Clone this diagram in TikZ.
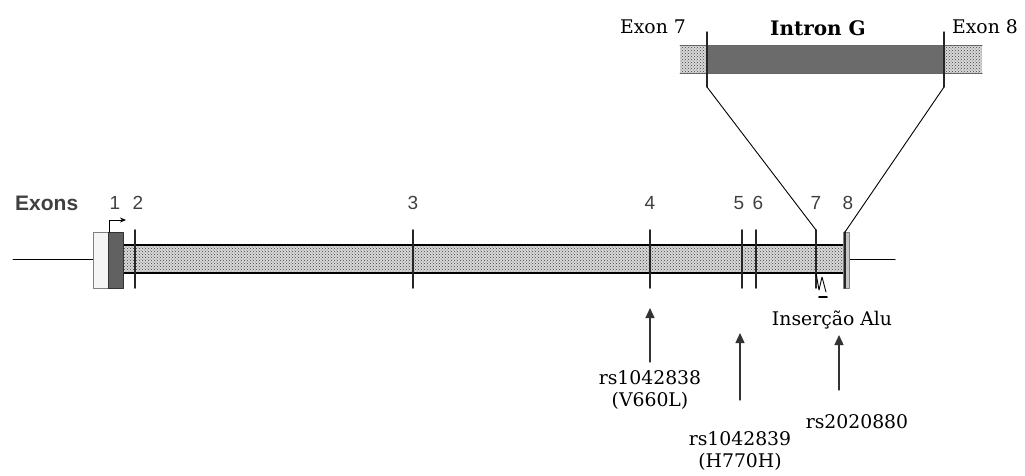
\documentclass[tikz,border=0pt]{standalone}
\usepackage{fontspec}
\setsansfont{Liberation Sans}
\newfontfamily\monofont{DejaVu Serif}
\usetikzlibrary{patterns,arrows.meta}

\tikzset{
  exnum/.style={font=\sffamily\fontsize{19}{19}\selectfont, inner sep=0, text=black!75},
  monolabel/.style={font=\monofont\fontsize{18.8}{22}\selectfont, inner sep=0, align=center},
  stipple/.style={fill=gray!30, postaction={pattern=crosshatch dots, pattern color=black!75}},
  exontick/.style={line width=1.6pt, black!85},
  snparrow/.style={-{Triangle[length=10pt,width=9pt]}, line width=1.3pt, black!80},
}

\begin{document}
\begin{tikzpicture}[line cap=round,line join=round,x=1pt,y=-1pt]
      \useasboundingbox (0,0) rectangle (1025,475);
      % \draw[help lines,step=25] (0,0) grid (1025,475);

      % flanking line
      \draw[line width=1pt] (13,259) -- (95,259);
      \draw[line width=1pt] (848,259) -- (895,259);

      % stippled introns
      \path[stipple] (122,245) rectangle (845,273);
      \draw[line width=1.2pt] (122,245) -- (845,245) (122,273) -- (845,273);

      % exon 1 + promoter
      \draw[gray, fill=gray!8] (93,232) rectangle (108,288);
      \draw[black!80, fill=black!62] (108,232) rectangle (123,288);
      \draw[-{Stealth[length=6pt,width=5pt]}, line width=1pt] (109,232) -- (109,220) -- (126,220);

      % exon ticks 2..7
      \foreach \x/\n in {135/2, 413/3, 650/4, 742/5, 756/6, 816/7}{
        \draw[exontick] (\x,230) coordinate (top\n) -- (\x,288) coordinate (bot\n);
      }

      % exon 8
      \draw[gray, fill=gray!45] (843,232) rectangle (849,288);
      \draw[exontick] (845,232) coordinate (top8) -- (845,288) coordinate (bot8);

      % labels
      \node[font=\sffamily\bfseries\fontsize{21}{21}\selectfont, inner sep=0, text=black!75, anchor=west] (exons) at (15,203) {Exons};
      \node[exnum] (n1) at (115,203) {1};
      \node[exnum] (n2) at (138,203) {2};
      \node[exnum] (n3) at (413,203) {3};
      \node[exnum] (n4) at (650,203) {4};
      \node[exnum] (n5) at (739,203) {5};
      \node[exnum] (n6) at (758,203) {6};
      \node[exnum] (n7) at (816,203) {7};
      \node[exnum] (n8) at (848,203) {8};

      % Alu insertion
      \draw[line width=0.9pt] (816,273) -- (819,290) -- (822,277) -- (826,292);
      \draw[line width=1.8pt] (819,297) -- (827,297);
      \node[monolabel] (alu) at (832,320) {Inserção Alu};

      % intron G (inset)
      \path[stipple] (680,45) rectangle (707,73);
      \path[stipple] (943,45) rectangle (982,73);
      \fill[black!58] (707,45) rectangle (943,73);
      \draw[gray!80!black, line width=1pt] (680,45) -- (982,45) (680,73) -- (982,73);
      \draw[exontick, line width=1.4pt] (707,32) -- (707,87) coordinate (in7);
      \draw[exontick, line width=1.4pt] (944,32) -- (944,87) coordinate (in8);
      \node[monolabel] (ex7) at (653,27) {Exon 7};
      \node[monolabel, font=\monofont\bfseries\fontsize{20}{20}\selectfont] (intron) at (818,28) {Intron G};
      \node[monolabel] (ex8) at (985,27) {Exon 8};

      % zoom lines
      \draw[line width=0.9pt] (in7) -- (top7);
      \draw[line width=0.9pt] (in8) -- (top8);

      % SNPs
      \coordinate (s1) at (650,362);
      \coordinate (h1) at (650,308);
      \draw[snparrow] (s1) -- (h1);
      \node[monolabel] (rs838) at (650,390) {rs1042838\\(V660L)};

      \coordinate (s2) at (740,400);
      \coordinate (h2) at (740,333);
      \draw[snparrow] (s2) -- (h2);
      \node[monolabel] (rs839) at (740,451) {rs1042839\\(H770H)};

      \coordinate (s3) at (839,390);
      \coordinate (h3) at (839,335);
      \draw[snparrow] (s3) -- (h3);
      \node[monolabel] (rs880) at (857,422) {rs2020880};

\end{tikzpicture}
\end{document}
